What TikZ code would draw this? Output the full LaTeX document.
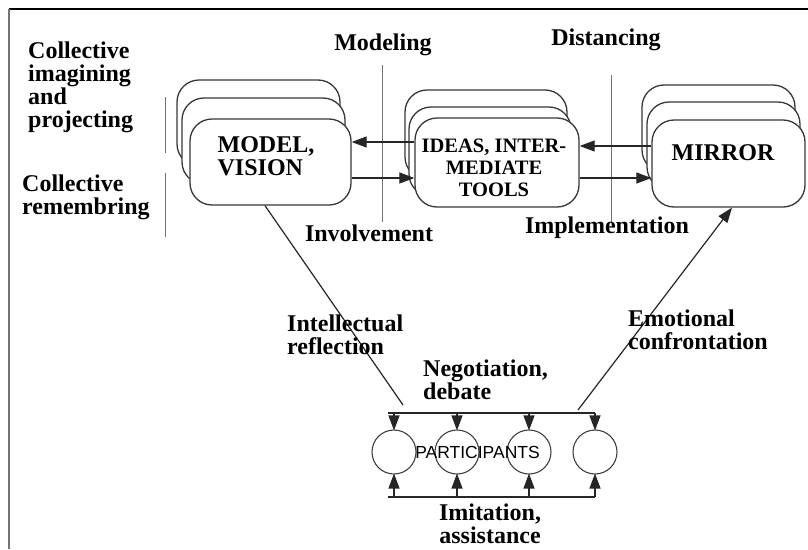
\documentclass[tikz,border=0pt]{standalone}
\usepackage{fontspec}
\setmainfont{Liberation Serif}
\newfontfamily\labelsans{Liberation Sans}
\usetikzlibrary{arrows.meta}
\begin{document}
\begin{tikzpicture}[x=1pt,y=-1pt,
  lbl/.style={font=\fontsize{24}{23}\selectfont\bfseries, inner sep=0pt, align=left, text=black},
  stackbox/.style={draw=black!78, line width=1.3pt, fill=white, rounded corners=22pt, inner sep=0pt},
  sep/.style={draw=black!55, line width=0.9pt},
  conn/.style={draw=black!85, line width=1.2pt, arrows={-Triangle[length=15pt,width=11pt]}},
  plain/.style={draw=black!85, line width=1.2pt},
  person/.style={circle, draw=black!75, line width=1.1pt, minimum size=44pt, inner sep=0pt}]
\useasboundingbox (0,0) rectangle (808,549);
\fill[white] (0,0) rectangle (808,549);

% frame
\draw[black, line width=1.5pt] (9,9) -- (808,9);
\draw[black!55, line width=2pt] (9,9) -- (9,549);

% separators
\draw[sep] (165,97) -- (165,153);
\draw[sep] (165,173) -- (165,237);
\draw[sep] (382,65) -- (382,222);
\draw[sep] (611,75) -- (611,222);

% side and column labels
\node[lbl, anchor=west] (imagine) at (28,87) {Collective\\imagining\\and\\projecting};
\node[lbl, anchor=west] (remember) at (22,197) {Collective\\remembring};
\node[lbl] (modeling) at (383,45) {Modeling};
\node[lbl] (distancing) at (606,40) {Distancing};
\node[lbl] (involvement) at (369,233) {Involvement};
\node[lbl] (implementation) at (607,228) {Implementation};

% MODEL, VISION stack
\node[stackbox, minimum width=163pt, minimum height=86pt] (mvC) at (258.5,123) {};
\node[stackbox, minimum width=163pt, minimum height=86pt] (mvB) at (263.5,141) {};
\node[stackbox, minimum width=161pt, minimum height=86pt] (mvA) at (270.5,162) {};
\node[lbl] (mvtext) at (266,156) {MODEL,\\VISION};

% IDEAS stack
\node[stackbox, minimum width=162pt, minimum height=89pt] (idC) at (486,134.5) {};
\node[stackbox, minimum width=162pt, minimum height=89pt] (idB) at (490,151.5) {};
\node[stackbox, minimum width=164pt, minimum height=89pt] (idA) at (497,162.5) {};
\node[lbl, align=center, font=\fontsize{20.5}{22}\selectfont\bfseries] (idtext) at (494,168) {IDEAS, INTER-\\MEDIATE\\TOOLS};

% MIRROR stack
\node[stackbox, minimum width=153pt, minimum height=87pt] (miC) at (718.5,128.5) {};
\node[stackbox, minimum width=153pt, minimum height=87pt] (miB) at (723.5,145.5) {};
\node[stackbox, minimum width=153pt, minimum height=87pt] (miA) at (728.5,163.5) {};
\node[lbl] (mitext) at (723,153) {MIRROR};

% arrow levels
\coordinate (yA) at (0,142);
\coordinate (yB) at (0,178);
\coordinate (yC) at (0,146);

\draw[conn] (idA.west |- yA) -- (mvA.east |- yA);
\draw[conn] (mvA.east |- yB) -- (idA.west |- yB);
\draw[conn] (miA.west |- yC) -- (idA.east |- yC);
\draw[conn] (idA.east |- yB) -- (miA.west |- yB);

% participants
\node[person] (p1) at (394,452) {};
\node[person] (p2) at (457,452) {};
\node[person] (p3) at (529,452) {};
\node[person] (p4) at (595,452) {};
\node[font=\labelsans\fontsize{17.5}{18}\selectfont, inner sep=0pt] (ptext) at (477.5,452) {PARTICIPANTS};

\coordinate (tl) at (388,413);
\coordinate (tr) at (595,413);
\coordinate (bl) at (388,497);
\coordinate (br) at (595,497);
\draw[plain] (tl) -- (tr);
\draw[plain] (bl) -- (br);
\foreach \p in {p1,p2,p3,p4}{
  \draw[conn] (\p |- tl) -- ([yshift=-1pt]\p.north);
  \draw[conn] (\p |- bl) -- ([yshift=1pt]\p.south);
}

% reflection and confrontation
\coordinate (refl) at (403,405);
\coordinate (conf) at (578,410);
\draw[plain] ([xshift=-5.5pt]mvA.south) -- (refl);
\draw[conn] (conf) -- ([xshift=3.5pt]miA.south);

\node[lbl, anchor=west] (intellectual) at (287,335) {Intellectual\\reflection};
\node[lbl, anchor=west] (emotional) at (628,330) {Emotional\\confrontation};
\node[lbl, anchor=west] (negotiation) at (423,380) {Negotiation,\\debate};
\node[lbl, align=center, anchor=north] (imitation) at (490,504) {Imitation,\\assistance};
\end{tikzpicture}
\end{document}
